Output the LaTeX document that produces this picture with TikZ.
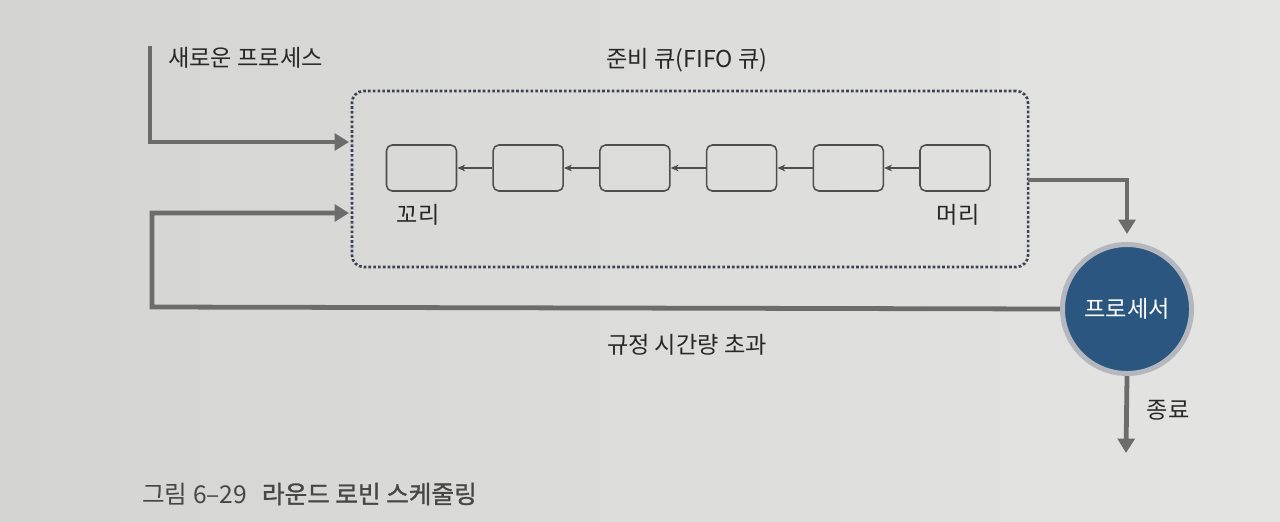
\documentclass[tikz,border=0pt]{standalone}
\usepackage{fontspec}
\setmainfont{Noto Sans CJK KR}
\usetikzlibrary{arrows.meta}
\definecolor{bgL}{RGB}{212,212,210}
\definecolor{bgR}{RGB}{228,228,226}
\definecolor{txt}{RGB}{40,40,40}
\definecolor{flowgray}{RGB}{108,108,108}
\definecolor{boxline}{RGB}{78,78,80}
\definecolor{dotline}{RGB}{60,66,80}
\definecolor{cpublue}{RGB}{42,86,128}
\definecolor{ring}{RGB}{180,184,190}
\tikzset{
	lbl/.style={text=txt, font=\fontsize{16.5}{18}\selectfont, inner sep=0pt},
	qbox/.style={draw=boxline, line width=1.1pt, rounded corners=4pt, minimum width=1.75cm, minimum height=1.15cm},
	link/.style={draw=boxline, line width=0.8pt, -{Stealth[length=0.2cm, width=0.17cm]}},
	flow/.style={draw=flowgray, line width=3.4pt, -{Triangle[length=0.36cm, width=0.42cm]}},
}
\begin{document}
\begin{tikzpicture}[x=0.025cm, y=-0.025cm]
	\useasboundingbox (0,0) rectangle (1280,521);
	\shade[left color=bgL, right color=bgR] (0,0) rectangle (1280,521); % Hintergrund
	
	% Warteschlange
	\node[draw=dotline, line width=1.9pt, dash pattern=on 1.9pt off 1.5pt, rounded corners=0.3cm, minimum width=16.9cm, minimum height=4.4cm] (q) at (690,179) {};
	\node[lbl] (qname) at (687,60) {준비 큐(FIFO 큐)};
	
	\foreach \i in {1,...,6}
		\node[qbox] (b\i) at ({421.5+106.7*(\i-1)},168) {};
	\foreach \i/\j in {1/2,2/3,3/4,4/5,5/6}
		\draw[link] (b\j.west) -- (b\i.east);
	
	\node[lbl] (tail) at (418,215) {꼬리};
	\node[lbl] (head) at (958,215) {머리};
	
	% Prozessor
	\node[circle, fill=cpublue, draw=ring, line width=0.125cm, minimum size=3.225cm, text=white, font=\fontsize{16.5}{18}\selectfont, inner sep=0pt] (cpu) at (1127,309) {프로세서};
	
	\coordinate (newp) at (150,46);
	\coordinate (in1) at (349,142);
	\coordinate (in2) at (349,213);
	\coordinate (back) at (152,307);
	\coordinate (out) at (1028,180);
	\coordinate (end) at (1126,453);
	
	\draw[flow] (newp) |- (in1);
	\draw[flow] (cpu.west) -- (back) |- (in2);
	\draw[flow, shorten >=0.2cm] (out) -| (cpu.north);
	\draw[flow] (cpu.south) -- (end);
	
	\node[lbl, anchor=west] (newlbl) at (168,58) {새로운 프로세스};
	\node[lbl] (tolbl) at (687,345) {규정 시간량 초과};
	\node[lbl] (endlbl) at (1168,410) {종료};
	
	\node[lbl, anchor=west, text=black!72, font=\fontsize{17.5}{20}\selectfont] (cap) at (142,494) {그림 6–29\hspace{0.6em}{\addfontfeatures{FakeBold=1.2}라운드 로빈 스케줄링}};
	
	%\draw[help lines] (0,0) grid[step=50] (1280,521);
\end{tikzpicture}
\end{document}
